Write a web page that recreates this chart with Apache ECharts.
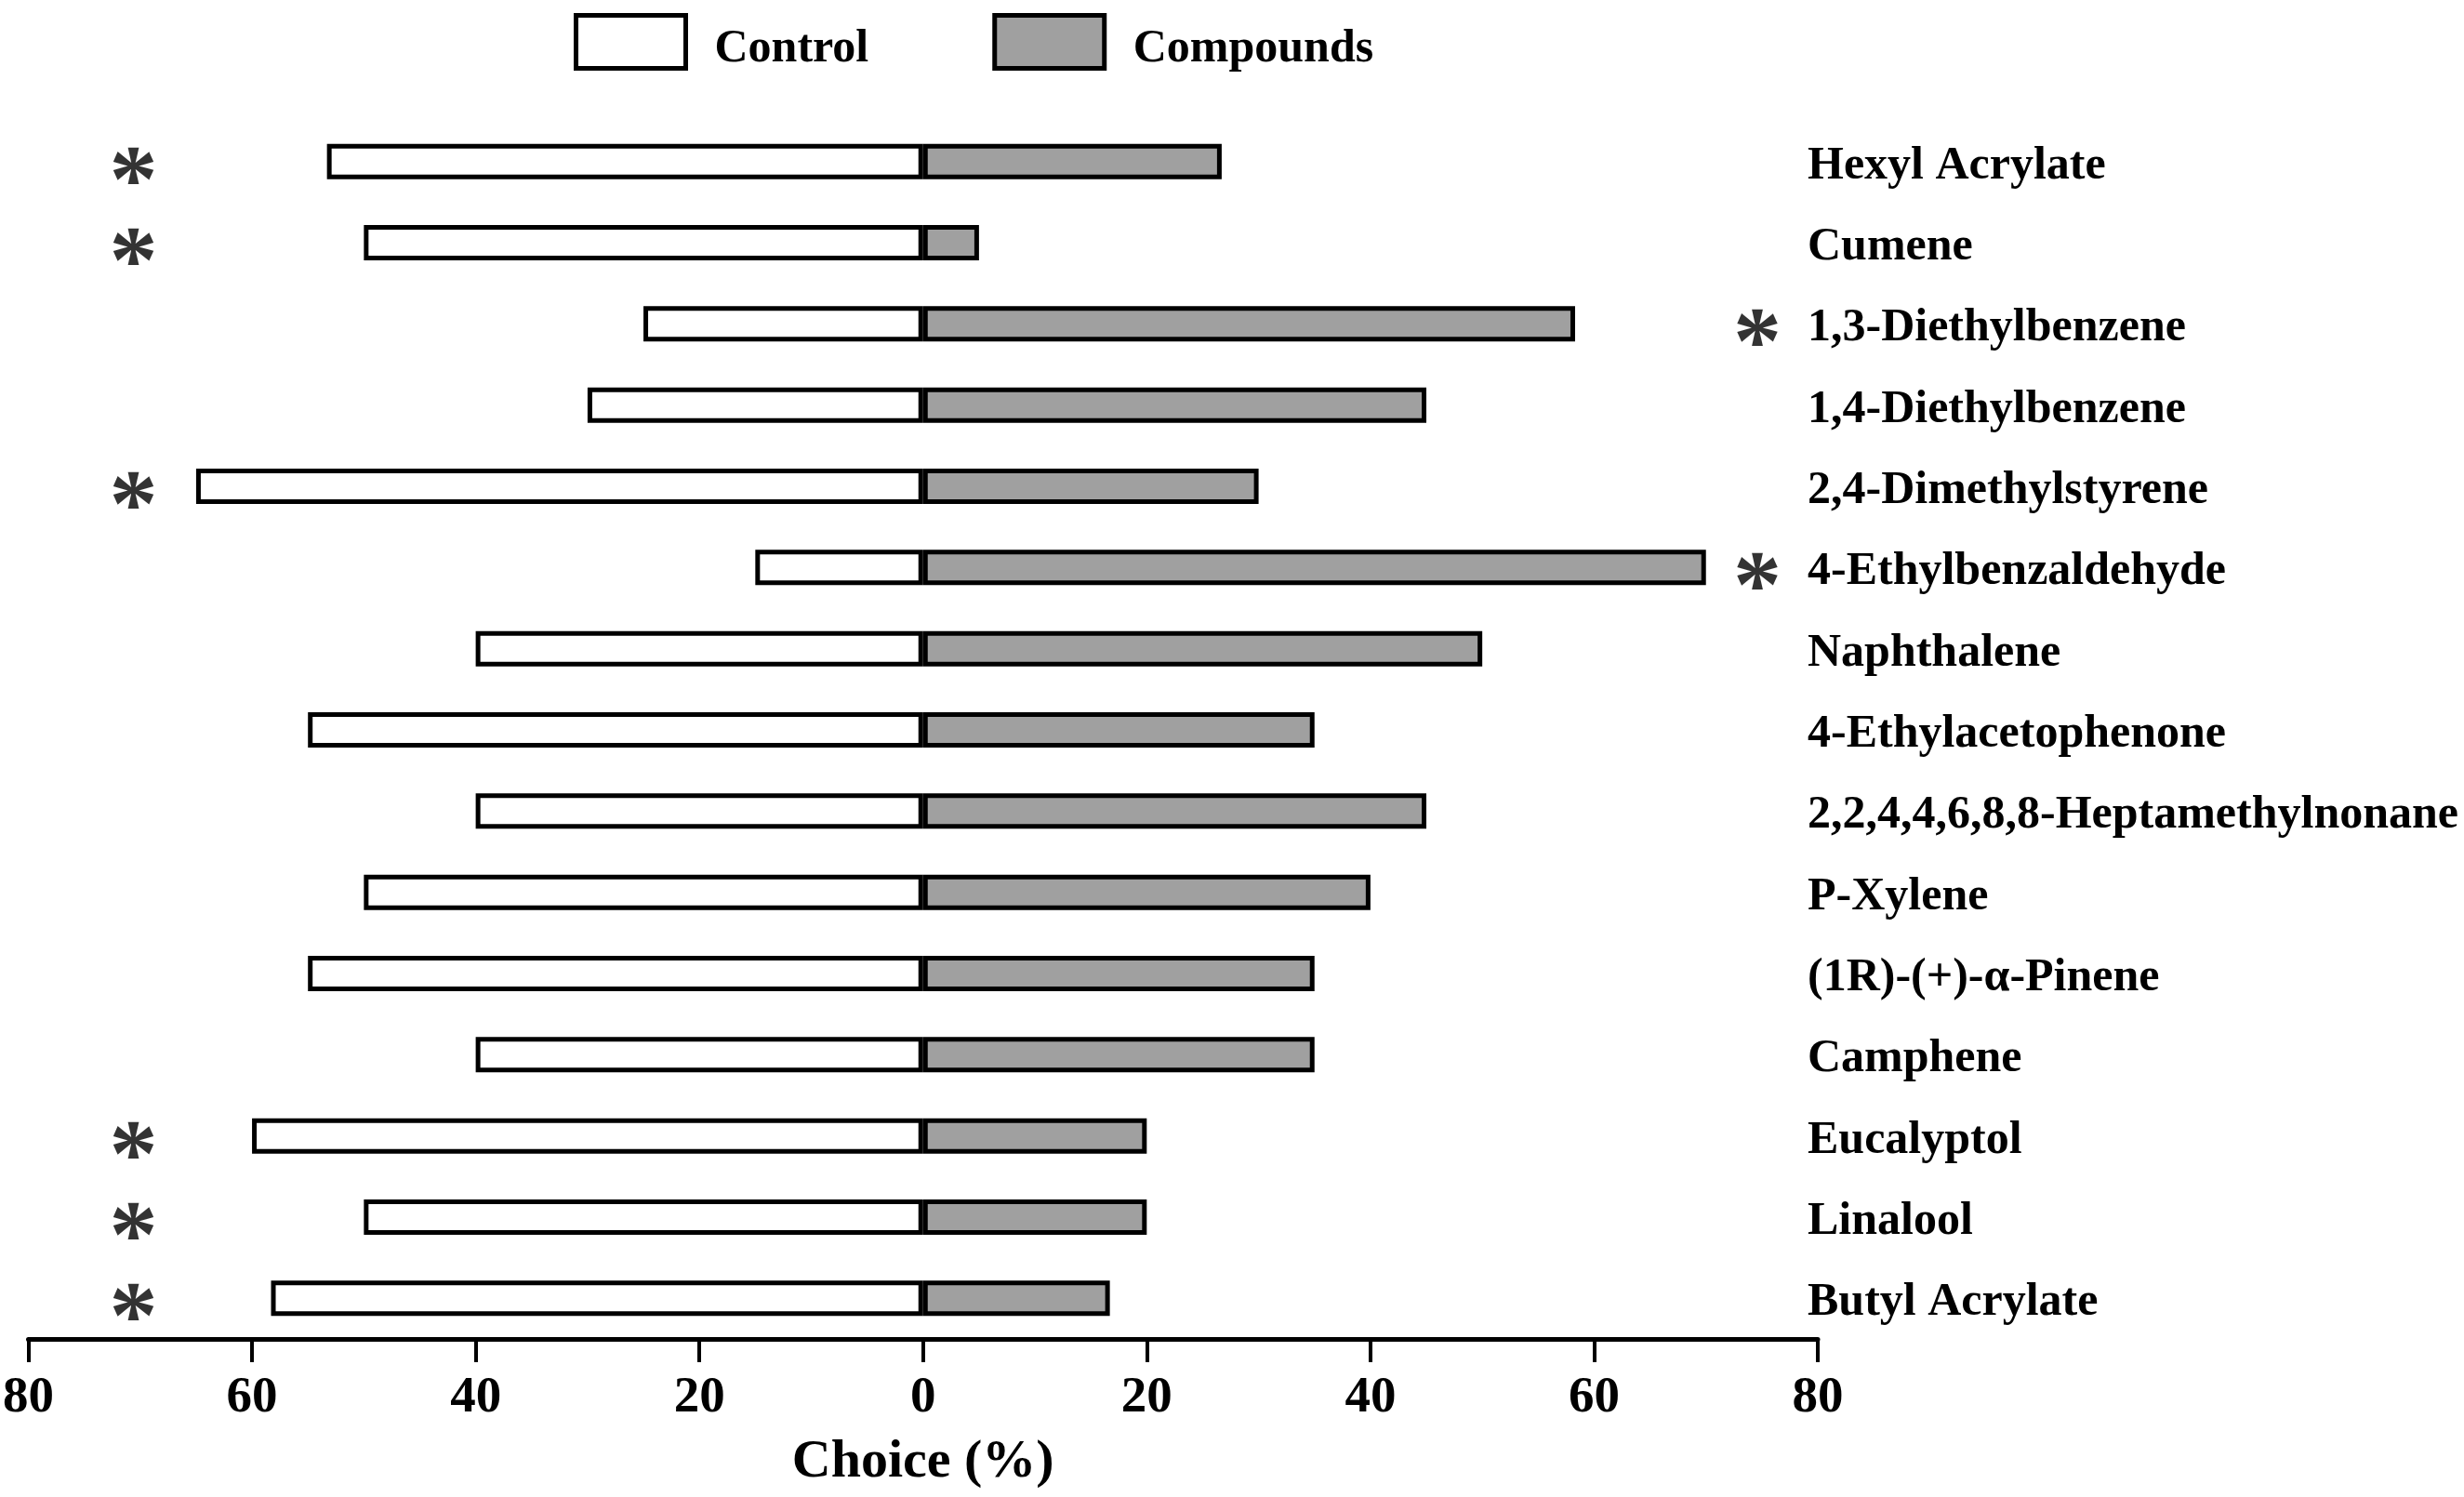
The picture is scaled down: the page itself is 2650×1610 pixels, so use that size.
<!DOCTYPE html>
<html>
<head>
<meta charset="utf-8">
<script src="https://cdn.jsdelivr.net/npm/echarts@6/dist/echarts.min.js"></script>
<style>
html,body{margin:0;padding:0;background:#fff;}
#chart{width:2650px;height:1610px;}
</style>
</head>
<body>
<div id="chart"></div>
<script>
// ---- data ----
const categories = [
  'Hexyl Acrylate', 'Cumene', '1,3-Diethylbenzene', '1,4-Diethylbenzene',
  '2,4-Dimethylstyrene', '4-Ethylbenzaldehyde', 'Naphthalene', '4-Ethylacetophenone',
  '2,2,4,4,6,8,8-Heptamethylnonane', 'P-Xylene', '(1R)-(+)-\u03B1-Pinene', 'Camphene',
  'Eucalyptol', 'Linalool', 'Butyl Acrylate'
];
const controlValues  = [53.3, 50, 25, 30, 65, 15, 40, 55, 40, 50, 55, 40, 60, 50, 58.3];
const compoundValues = [26.7, 5, 58.3, 45, 30, 70, 50, 35, 45, 40, 35, 35, 20, 20, 16.7];
// significance: 'control' = asterisk on control side, 'compound' = asterisk on compound side
const significance = ['control', 'control', 'compound', '', 'control', 'compound', '', '', '', '', '', '', 'control', 'control', 'control'];
const xTicks = [-80, -60, -40, -20, 0, 20, 40, 60, 80];
const seriesNames = ['Control', 'Compounds'];

// ---- chart ----
const FONT = '"Liberation Serif", "Times New Roman", serif';
const STAR_X = { control: -70.6, compound: 74.6 };
const starData = [];
significance.forEach((s, i) => { if (s) starData.push([STAR_X[s], categories[i]]); });

const chart = echarts.init(document.getElementById('chart'), null, { renderer: 'canvas' });
chart.setOption({
  backgroundColor: '#fff',
  animation: false,
  legend: {
    left: 617, top: 14, padding: 0,
    itemWidth: 118, itemHeight: 57, itemGap: 133,
    formatter: name => '{t|' + name + '}',
    textStyle: {
      fontFamily: FONT, fontWeight: 'bold', fontSize: 50, color: '#000',
      rich: { t: { fontFamily: FONT, fontWeight: 'bold', fontSize: 50, color: '#000', padding: [16, 0, 0, 26] } }
    },
    data: [
      { name: seriesNames[0], icon: 'rect', itemStyle: { color: '#fff', borderColor: '#000', borderWidth: 5 } },
      { name: seriesNames[1], icon: 'rect', itemStyle: { color: '#a0a0a0', borderColor: '#000', borderWidth: 5 } }
    ]
  },
  grid: { left: 30, right: 695, top: 130, bottom: 170, containLabel: false },
  xAxis: {
    type: 'value', min: xTicks[0], max: xTicks[xTicks.length - 1], interval: 20,
    name: 'Choice (%)', nameLocation: 'middle', nameGap: 104,
    nameTextStyle: { fontFamily: FONT, fontWeight: 'bold', fontSize: 58, color: '#000' },
    axisLine: { show: true, lineStyle: { color: '#000', width: 5 } },
    axisTick: { show: true, length: 25, lineStyle: { color: '#000', width: 4 } },
    axisLabel: {
      margin: 36, fontFamily: FONT, fontWeight: 'bold', fontSize: 55, color: '#000',
      formatter: v => String(Math.abs(v))
    },
    splitLine: { show: false }
  },
  yAxis: {
    type: 'category', data: categories, inverse: true, position: 'right',
    axisLine: { show: false }, axisTick: { show: false }, splitLine: { show: false },
    axisLabel: {
      margin: -11, align: 'left',
      formatter: v => '{c|' + v + '}',
      fontFamily: FONT, fontWeight: 'bold', fontSize: 50, color: '#000',
      rich: { c: { fontFamily: FONT, fontWeight: 'bold', fontSize: 50, color: '#000', padding: [10, 0, 0, 0] } }
    }
  },
  series: [
    {
      name: seriesNames[0], type: 'bar', stack: 'total', barWidth: 38,
      data: controlValues.map(v => -v),
      itemStyle: { color: '#fff', borderColor: '#000', borderWidth: 5 }
    },
    {
      name: seriesNames[1], type: 'bar', stack: 'total', barWidth: 38,
      data: compoundValues,
      itemStyle: { color: '#a0a0a0', borderColor: '#000', borderWidth: 5 }
    },
    {
      name: 'sig', type: 'scatter', data: starData, symbolSize: 1,
      itemStyle: { color: 'transparent' }, silent: true,
      label: {
        show: true, position: 'inside', formatter: '*', offset: [0, 26],
        fontFamily: FONT, fontWeight: 'bold', fontSize: 104, color: '#000'
      }
    }
  ]
});
</script>
</body>
</html>
